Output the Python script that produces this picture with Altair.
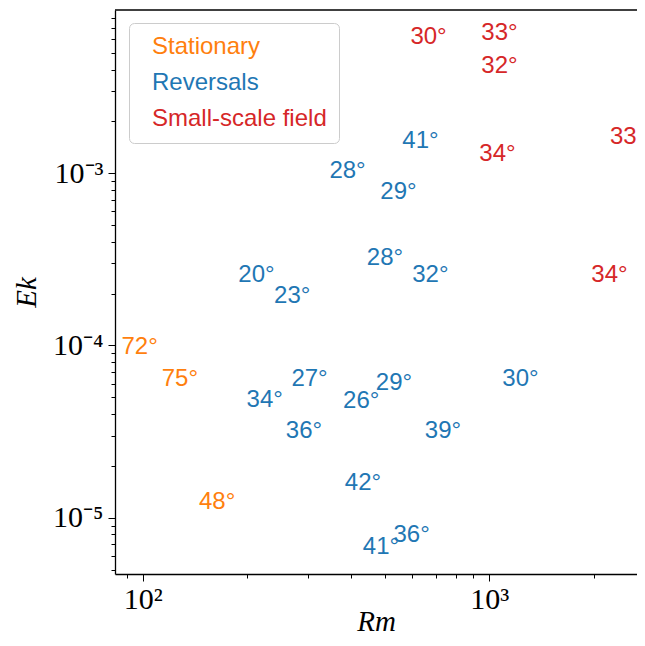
import altair as alt
import pandas as pd

# ---- data ----
stationary_rm = [98, 128, 164]
stationary_ek = [9.8e-5, 6.4e-5, 1.24e-5]
stationary_lbl = ["72°", "75°", "48°"]

reversal_rm = [213, 270, 390, 633, 547, 500, 676, 303, 225, 292, 427, 531, 1230, 735, 432, 487, 597]
reversal_ek = [2.57e-4, 1.94e-4, 1.03e-3, 1.54e-3, 7.8e-4, 3.22e-4, 2.57e-4, 6.4e-5, 4.83e-5,
               3.19e-5, 4.77e-5, 6.07e-5, 6.4e-5, 3.19e-5, 1.59e-5, 6.78e-6, 7.96e-6]
reversal_lbl = ["20°", "23°", "28°", "41°", "29°", "28°", "32°", "27°", "34°",
                "36°", "26°", "29°", "30°", "39°", "42°", "41°", "36°"]

small_rm = [668, 1070, 1070, 1056, 2514, 2222]
small_ek = [6.18e-3, 6.52e-3, 4.19e-3, 1.29e-3, 1.62e-3, 2.57e-4]
small_lbl = ["30°", "33°", "32°", "34°", "33°", "34°"]

categories = ["Stationary", "Reversals", "Small-scale field"]
colors = ["#ff7f0e", "#1f77b4", "#d62728"]

x_ticks = [90, 100, 200, 300, 400, 500, 600, 700, 800, 900, 1000, 2000]
y_ticks = [5e-6, 6e-6, 7e-6, 8e-6, 9e-6,
           1e-5, 2e-5, 3e-5, 4e-5, 5e-5, 6e-5, 7e-5, 8e-5, 9e-5,
           1e-4, 2e-4, 3e-4, 4e-4, 5e-4, 6e-4, 7e-4, 8e-4, 9e-4,
           1e-3, 2e-3, 3e-3, 4e-3, 5e-3, 6e-3, 7e-3, 8e-3]

rows = []
for cat, rms, eks, lbls in [
    (categories[0], stationary_rm, stationary_ek, stationary_lbl),
    (categories[1], reversal_rm, reversal_ek, reversal_lbl),
    (categories[2], small_rm, small_ek, small_lbl),
]:
    for r, e, l in zip(rms, eks, lbls):
        rows.append({"Rm": r, "Ek": e, "label": l, "type": cat})
df = pd.DataFrame(rows)

W, H = 522, 564
major_test = "abs(log(datum.value)/LN10 - round(log(datum.value)/LN10)) < 1e-6"

x_axis = alt.Axis(
    title="Rm", values=x_ticks, grid=False,
    labelExpr="datum.value == 100 ? '10²' : (datum.value == 1000 ? '10³' : '')",
    labelFont="Liberation Serif", labelFontSize=30, labelColor="black", labelPadding=3,
    titleFont="Liberation Serif", titleFontStyle="italic", titleFontWeight="normal",
    titleFontSize=29, titleColor="black", titleBaseline="alphabetic", titleY=56,
    tickColor="black", domainColor="black", domainWidth=1.3,
    tickSize={"condition": {"test": major_test, "value": 7}, "value": 4},
    tickWidth=1,
)
y_axis = alt.Axis(
    title="Ek", values=y_ticks, grid=False,
    labelExpr="abs(datum.value - 1e-5) < 1e-9 ? '10⁻⁵' : (abs(datum.value - 1e-4) < 1e-8 ? '10⁻⁴' : (abs(datum.value - 1e-3) < 1e-7 ? '10⁻³' : ''))",
    labelFont="Liberation Serif", labelFontSize=30, labelColor="black", labelPadding=5,
    titleFont="Liberation Serif", titleFontStyle="italic", titleFontWeight="normal",
    titleFontSize=29, titleColor="black", titlePadding=11,
    tickColor="black", domainColor="black", domainWidth=1.3,
    tickSize={"condition": {"test": major_test, "value": 7}, "value": 4},
    tickWidth=1,
)

label_color_expr = ("datum.label == 'Stationary' ? '#ff7f0e' : "
                    "(datum.label == 'Reversals' ? '#1f77b4' : '#d62728')")

points = alt.Chart(df).mark_text(
    font="Liberation Sans", fontSize=24, align="center", baseline="middle"
).encode(
    x=alt.X("Rm:Q", scale=alt.Scale(type="log", domain=[83.2, 2668], nice=False), axis=x_axis),
    y=alt.Y("Ek:Q", scale=alt.Scale(type="log", domain=[4.71e-6, 8.87e-3], nice=False), axis=y_axis),
    text="label:N",
    color=alt.Color(
        "type:N",
        scale=alt.Scale(domain=categories, range=colors),
        legend=alt.Legend(
            title=None, orient="none", legendX=14, legendY=13,
            labelFont="Liberation Sans", labelFontSize=24, labelLimit=400,
            labelColor=alt.ExprRef(label_color_expr),
            symbolOpacity=0, symbolSize=1, symbolStrokeWidth=0,
            labelOffset=alt.ExprRef("-13"), padding=12, rowPadding=12,
            strokeColor="#cccccc", fillColor="rgba(255,255,255,0.8)",
            cornerRadius=5,
        ),
    ),
)

top_spine = alt.Chart(pd.DataFrame({"s": [0]})).mark_rule(
    color="black", strokeWidth=1.3
).encode(x=alt.value(0), x2=alt.value(W), y=alt.value(0))

chart = alt.layer(points, top_spine).properties(
    width=W, height=H,
    autosize=alt.AutoSizeParams(type="none"),
    padding={"left": 107, "top": 2, "right": 0, "bottom": 62},
).configure_view(stroke=None)

chart.save("out.html", embed_options={"renderer": "svg", "actions": False})
